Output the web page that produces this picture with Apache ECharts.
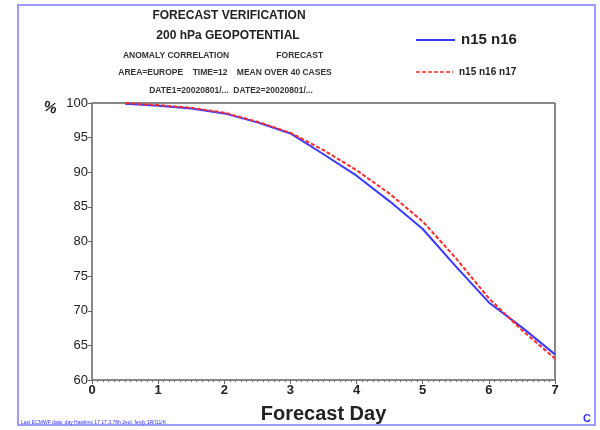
<!DOCTYPE html>
<html>
<head>
<meta charset="utf-8">
<script src="https://cdn.jsdelivr.net/npm/echarts@6/dist/echarts.min.js"></script>
<style>
  html, body { margin: 0; padding: 0; background: #fff; }
  #main { width: 600px; height: 430px; }
</style>
</head>
<body>
<div id="main"></div>
<script>
// forecast day (steps of 12h)
const days = [0.5, 1, 1.5, 2, 2.5, 3, 3.5, 4, 4.5, 5, 5.5, 6, 6.5, 7];
// anomaly correlation (%)
const n15n16 = [99.9, 99.6, 99.2, 98.5, 97.2, 95.6, 92.6, 89.5, 85.8, 81.8, 76.4, 71.2, 67.6, 63.7];
const n15n16n17 = [100.0, 99.7, 99.3, 98.6, 97.3, 95.7, 93.2, 90.3, 86.9, 82.9, 77.6, 71.8, 67.2, 63.1];
const seriesNames = ["n15 n16", "n15 n16 n17"];
const titleLines = [
  "FORECAST VERIFICATION",
  "200 hPa GEOPOTENTIAL",
  "ANOMALY CORRELATION                    FORECAST",
  "AREA=EUROPE    TIME=12    MEAN OVER 40 CASES",
  "DATE1=20020801/...  DATE2=20020801/..."
];

const chart = echarts.init(document.getElementById("main"));
const font = "Liberation Sans";

function pairs(ys) {
  return days.map((d, i) => [d, ys[i]]);
}

const option = {
  animation: false,
  backgroundColor: "#fff",
  textStyle: { fontFamily: font },
  grid: { left: 92, right: 45, top: 103, bottom: 50 },
  xAxis: {
    type: "value",
    min: 0,
    max: 7,
    interval: 1,
    name: "Forecast Day",
    nameLocation: "middle",
    nameGap: 24,
    nameTextStyle: { fontSize: 20, fontWeight: "bold", color: "#222", fontFamily: font },
    axisLine: { lineStyle: { color: "#888", width: 2 } },
    axisTick: { inside: false, length: 4, lineStyle: { color: "#666" } },
    minorTick: { show: true, splitNumber: 12, length: 2, lineStyle: { color: "#777" } },
    axisLabel: { color: "#222", fontSize: 13, fontWeight: "bold", margin: 4 },
    splitLine: { show: false }
  },
  yAxis: {
    type: "value",
    min: 60,
    max: 100,
    interval: 5,
    axisLine: { show: true, lineStyle: { color: "#888", width: 2 } },
    axisTick: { show: true, length: 4, lineStyle: { color: "#666" } },
    axisLabel: { color: "#222", fontSize: 13, margin: 4 },
    splitLine: { show: false }
  },
  series: [
    {
      name: seriesNames[0],
      type: "line",
      data: pairs(n15n16),
      symbol: "none",
      lineStyle: { color: "#3a3aff", width: 2 }
    },
    {
      name: seriesNames[1],
      type: "line",
      data: pairs(n15n16n17),
      symbol: "none",
      lineStyle: { color: "#ff2a2a", width: 2, type: [4, 2] }
    }
  ],
  graphic: [
    // outer frame
    { type: "rect", shape: { x: 18, y: 5, width: 577, height: 420 },
      style: { fill: "none", stroke: "#9a9aff", lineWidth: 2 }, silent: true },
    // plot box top and right edges
    { type: "line", shape: { x1: 92, y1: 103, x2: 555, y2: 103 },
      style: { stroke: "#888", lineWidth: 2 } },
    { type: "line", shape: { x1: 555, y1: 103, x2: 555, y2: 380 },
      style: { stroke: "#888", lineWidth: 2 } },
    // title block
    { type: "text", x: 229, y: 10, style: { text: titleLines[0], fontSize: 12, fontWeight: "bold", fill: "#222", align: "center", fontFamily: font } },
    { type: "text", x: 228, y: 30, style: { text: titleLines[1], fontSize: 12, fontWeight: "bold", fill: "#222", align: "center", fontFamily: font } },
    { type: "text", x: 223, y: 51, style: { text: titleLines[2], fontSize: 8.5, fontWeight: "bold", fill: "#333", align: "center", fontFamily: font } },
    { type: "text", x: 225, y: 68, style: { text: titleLines[3], fontSize: 8.5, fontWeight: "bold", fill: "#333", align: "center", fontFamily: font } },
    { type: "text", x: 231, y: 86, style: { text: titleLines[4], fontSize: 8.5, fontWeight: "bold", fill: "#333", align: "center", fontFamily: font } },
    // y unit
    { type: "text", x: 46, y: 99, rotation: -0.3, style: { text: "%", fontSize: 15, fontWeight: "bold", fill: "#222", fontFamily: font } },
    // legend
    { type: "line", shape: { x1: 416, y1: 40, x2: 455, y2: 40 },
      style: { stroke: "#3a3aff", lineWidth: 2 } },
    { type: "text", x: 461, y: 32, style: { text: seriesNames[0], fontSize: 15, fontWeight: "bold", fill: "#222", fontFamily: font } },
    { type: "line", shape: { x1: 416, y1: 72, x2: 453, y2: 72 },
      style: { stroke: "#ff2a2a", lineWidth: 1.5, lineDash: [4, 2] } },
    { type: "text", x: 459, y: 67, style: { text: seriesNames[1], fontSize: 10, fontWeight: "bold", fill: "#222", fontFamily: font } },
    // footer
    { type: "text", x: 21, y: 420, style: { text: "Last ECMWF data: day Hawkins 17 17.3.78h 2eol. ferdy 1R/I11/K", fontSize: 5, fill: "#3333ff", fontFamily: font } },
    { type: "text", x: 583, y: 413, style: { text: "C", fontSize: 11, fontWeight: "bold", fill: "#3333ff", fontFamily: font } }
  ]
};

chart.setOption(option);
</script>
</body>
</html>
